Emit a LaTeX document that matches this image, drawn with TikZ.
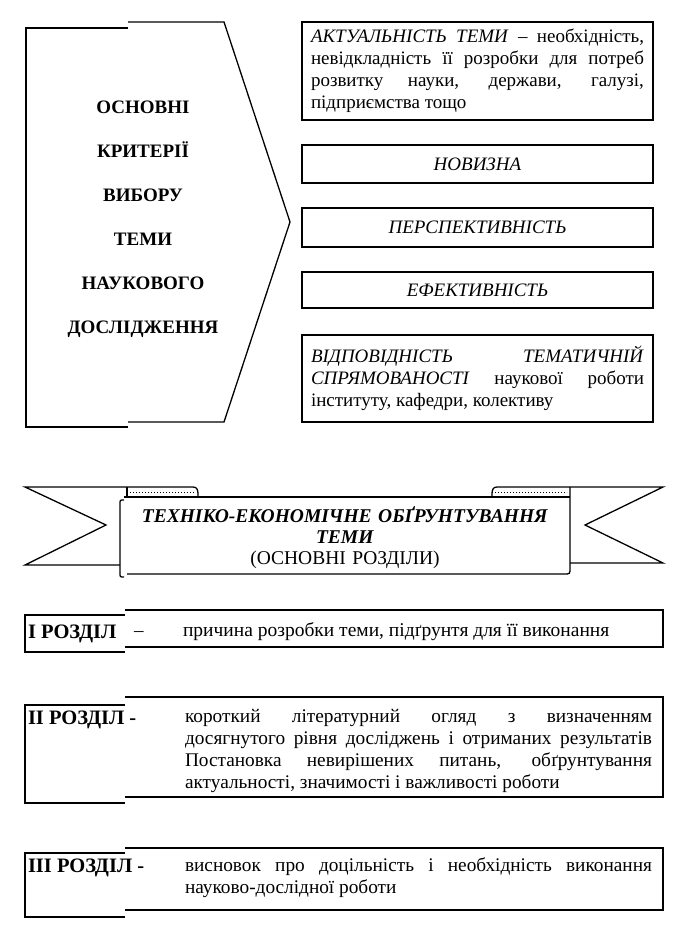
\documentclass[tikz,border=0pt]{standalone}
\usepackage{fontspec}
\setmainfont{Liberation Serif}
\begin{document}
\begin{tikzpicture}[x=1pt,y=-1pt,
  every node/.style={inner sep=0pt, outer sep=0pt},
  ln/.style={line width=1.3pt, line join=miter},
  crit/.style={draw, line width=1.3pt, minimum width=351pt, text width=333pt,
    inner xsep=9pt, align=justify, font=\fontsize{19}{22}\selectfont},
  critc/.style={crit, align=center},
  body/.style={text width=467pt, align=justify, anchor=base west,
    font=\fontsize{19.3}{22.3}\selectfont},
  lab/.style={anchor=base west, font=\fontsize{20.5}{22}\selectfont\bfseries},
  roll/.style={dotted, line width=1pt}
]
\useasboundingbox (0,0) rectangle (688,952);

% ---------- criteria pentagon ----------
\draw[ln] (128,28) -- (26,28) -- (26,427) -- (128,427);
\draw[ln] (128,22) -- (224,22) -- (290,222) -- (224,422) -- (128,422);
\node[font=\fontsize{19}{44}\selectfont\bfseries, text width=220pt, align=center, anchor=base]
  (title) at (143,114) {ОСНОВНІ\\КРИТЕРІЇ\\ВИБОРУ\\ТЕМИ\\НАУКОВОГО\\ДОСЛІДЖЕННЯ};

% ---------- criteria boxes ----------
\node[crit, minimum height=98pt] (b1) at (477.5,71)
  {\textit{АКТУАЛЬНІСТЬ ТЕМИ} – необхідність,\linebreak
   невідкладність її розробки для потреб\linebreak
   розвитку науки, держави, галузі,\linebreak
   підприємства тощо};
\node[critc, minimum height=38pt] (b2) at (477.5,164) {\textit{НОВИЗНА}};
\node[critc, minimum height=39pt] (b3) at (477.5,227.5) {\textit{ПЕРСПЕКТИВНІСТЬ}};
\node[critc, minimum height=36pt] (b4) at (477.5,290) {\textit{ЕФЕКТИВНІСТЬ}};
\node[crit, minimum height=87pt] (b5) at (477.5,378.5)
  {\textit{ВІДПОВІДНІСТЬ ТЕМАТИЧНІЙ}\linebreak
   \textit{СПРЯМОВАНОСТІ} наукової роботи\linebreak
   інституту, кафедри, колективу};

% ---------- banner ----------
\draw[ln] (120,565) -- (25,565) -- (106,525) -- (25,487) -- (193,487)
  .. controls (197,487) and (198,490) .. (198,494) -- (198,497);
\draw[ln] (127,497) -- (127,487);
\draw[roll] (130,492.5) -- (195,492.5);
\draw[ln] (570,563) -- (663,563) -- (585,525) -- (663,487) -- (497,487)
  .. controls (493,487) and (492,490) .. (492,494) -- (492,497);
\draw[roll] (495,492.5) -- (567,492.5);
\draw[ln] (124,500) .. controls (120,500) .. (120,504) -- (120,573)
  .. controls (120,577) .. (124,577);
\draw[ln] (124,497) -- (570,497);
\draw[ln] (570,487) -- (570,568) .. controls (570,574) .. (564,574) -- (127,574);
\node[text width=440pt, align=center, anchor=base,
  font=\fontsize{19.5}{21}\selectfont] (bt) at (345,522)
  {\textbf{\textit{ТЕХНІКО-ЕКОНОМІЧНЕ ОБҐРУНТУВАННЯ}}\\
   \textbf{\textit{ТЕМИ}}\\
   (ОСНОВНІ РОЗДІЛИ)};

% ---------- chapter I ----------
\draw[ln] (125,610) -- (663,610) -- (663,647) -- (125,647);
\draw[ln] (125,615) -- (25,615) -- (25,652) -- (125,652);
\node[lab] (l1) at (28,638) {I РОЗДІЛ};
\node[anchor=base west, font=\fontsize{19}{22}\selectfont] (d1) at (134,636) {–};
\node[anchor=base west, font=\fontsize{19.5}{22}\selectfont] (t1) at (183,636)
  {причина розробки теми, підґрунтя для її виконання};

% ---------- chapter II ----------
\draw[ln] (125,697) -- (663,697) -- (663,797) -- (125,797);
\draw[ln] (125,705) -- (25,705) -- (25,803) -- (125,803);
\node[lab] (l2) at (28,724) {II РОЗДІЛ -};
\node[body] (t2) at (185,722)
  {короткий літературний огляд з визначенням\linebreak
   досягнутого рівня досліджень і отриманих результатів\linebreak
   Постановка невирішених питань, обґрунтування\linebreak
   актуальності, значимості і важливості роботи};

% ---------- chapter III ----------
\draw[ln] (125,848) -- (663,848) -- (663,910) -- (125,910);
\draw[ln] (125,853) -- (25,853) -- (25,917) -- (125,917);
\node[lab] (l3) at (28,872) {III РОЗДІЛ -};
\node[body] (t3) at (185,871)
  {висновок про доцільність і необхідність виконання\linebreak
   науково-дослідної роботи};
\end{tikzpicture}
\end{document}
